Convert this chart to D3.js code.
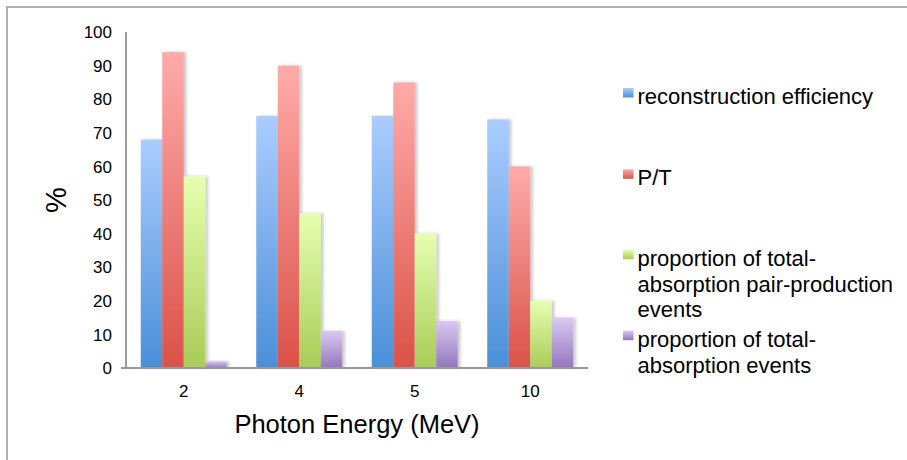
<!DOCTYPE html>
<html>
<head>
<meta charset="utf-8">
<script src="https://cdn.jsdelivr.net/npm/d3@7"></script>
<style>
  html, body { margin: 0; padding: 0; background: #fff; }
  svg { display: block; font-family: "Liberation Sans", Arial, Helvetica, sans-serif; }
</style>
</head>
<body>
<svg id="chart" width="907" height="460"></svg>
<script>
const categories = ["2", "4", "5", "10"];
const seriesNames = [
  "reconstruction efficiency",
  "P/T",
  "proportion of total-absorption pair-production events",
  "proportion of total-absorption events"
];
const legendLines = [
  ["reconstruction efficiency"],
  ["P/T"],
  ["proportion of total-", "absorption pair-production", "events"],
  ["proportion of total-", "absorption events"]
];
const reconstructionEfficiency = [68, 75, 75, 74];
const peakToTotal = [94, 90, 85, 60];
const pairProduction = [57, 46, 40, 20];
const totalAbsorption = [2, 11, 14, 15];
const yTicks = [0, 10, 20, 30, 40, 50, 60, 70, 80, 90, 100];
const xTitle = "Photon Energy (MeV)";
const yTitle = "%";

const seriesValues = [reconstructionEfficiency, peakToTotal, pairProduction, totalAbsorption];
const gradStops = [
  ["#abcdff", "#4a8fd8"],
  ["#ffabaa", "#da5248"],
  ["#e6ffb0", "#a8cc57"],
  ["#dac8f2", "#9377bd"]
];

const svg = d3.select("#chart");
const defs = svg.append("defs");
gradStops.forEach((c, i) => {
  const g = defs.append("linearGradient").attr("id", "g" + i)
    .attr("x1", 0).attr("y1", 0).attr("x2", 0).attr("y2", 1);
  g.append("stop").attr("offset", "0%").attr("stop-color", c[0]);
  g.append("stop").attr("offset", "100%").attr("stop-color", c[1]);
});
const f = defs.append("filter").attr("id", "sh").attr("x", "-20%").attr("y", "-5%").attr("width", "150%").attr("height", "110%");
f.append("feDropShadow").attr("dx", 2.5).attr("dy", 0).attr("stdDeviation", 1.5)
  .attr("flood-color", "#000").attr("flood-opacity", 0.22);
const fg = defs.append("filter").attr("id", "gsh").attr("x", "-5%").attr("y", "-200%").attr("width", "110%").attr("height", "500%");
fg.append("feDropShadow").attr("dx", 0).attr("dy", 1.3).attr("stdDeviation", 0.6)
  .attr("flood-color", "#000").attr("flood-opacity", 0.22);

// outer frame
svg.append("path").attr("d", "M7,470 L7,7 L920,7")
  .attr("fill", "none").attr("stroke", "#b0b0b0").attr("stroke-width", 2);

const plotLeft = 126, plotRight = 588, plotTop = 32, plotBottom = 368;
const x0 = d3.scaleBand().domain(categories).range([plotLeft, plotRight])
  .paddingInner(0.2554).paddingOuter(0.1277);
const x1 = d3.scaleBand().domain(d3.range(seriesNames.length)).range([0, x0.bandwidth()]).padding(0);
const y = d3.scaleLinear().domain([0, 100]).range([plotBottom, plotTop]);

// gridlines
svg.append("g").selectAll("line").data(yTicks).join("line")
  .attr("x1", plotLeft - 5).attr("x2", plotRight)
  .attr("y1", d => y(d)).attr("y2", d => y(d))
  .attr("stroke", "#999").attr("stroke-width", 1.9)
  .attr("filter", "url(#gsh)");

// y axis line
svg.append("line").attr("x1", plotLeft).attr("x2", plotLeft).attr("y1", plotTop).attr("y2", plotBottom)
  .attr("stroke", "#999").attr("stroke-width", 1.9);

// y tick labels
svg.append("g").selectAll("text").data(yTicks).join("text")
  .attr("x", 112).attr("y", d => y(d)).attr("dy", "0.36em")
  .attr("text-anchor", "end").attr("font-size", 17).attr("fill", "#000")
  .text(d => d);

// bars
const groups = svg.append("g").selectAll("g").data(categories).join("g")
  .attr("transform", c => `translate(${x0(c)},0)`);
groups.selectAll("rect").data((c, ci) => seriesValues.map((vals, si) => ({ si, v: vals[ci] })))
  .join("rect")
  .attr("x", d => x1(d.si)).attr("width", x1.bandwidth())
  .attr("y", d => y(d.v)).attr("height", d => y(0) - y(d.v))
  .attr("fill", d => `url(#g${d.si})`)
  .attr("filter", "url(#sh)");

// baseline redraw over bars
svg.append("line").attr("x1", plotLeft - 5).attr("x2", plotRight).attr("y1", plotBottom).attr("y2", plotBottom)
  .attr("stroke", "#999").attr("stroke-width", 1.9);

// x tick labels
svg.append("g").selectAll("text").data(categories).join("text")
  .attr("x", c => x0(c) + x0.bandwidth() / 2).attr("y", 396.5)
  .attr("text-anchor", "middle").attr("font-size", 17).attr("fill", "#000")
  .text(c => c);

// axis titles
svg.append("text").attr("x", (plotLeft + plotRight) / 2).attr("y", 433)
  .attr("text-anchor", "middle").attr("font-size", 25.5).attr("fill", "#000").text(xTitle);
svg.append("text").attr("transform", `translate(66,${(plotTop + plotBottom) / 2}) rotate(-90)`)
  .attr("text-anchor", "middle").attr("font-size", 29).attr("fill", "#000").text(yTitle);

// legend
const legendBaselines = [104, 185.3, 265.7, 346.7];
const lineGap = 25.8;
const lg = svg.append("g").selectAll("g").data(seriesNames).join("g");
lg.append("rect").attr("x", 623).attr("width", 10.5).attr("height", 9.5)
  .attr("y", (d, i) => legendBaselines[i] - 16)
  .attr("fill", (d, i) => `url(#g${i})`);
lg.append("text").attr("font-size", 22).attr("fill", "#000")
  .each(function(d, i) {
    d3.select(this).selectAll("tspan").data(legendLines[i]).join("tspan")
      .attr("x", 637.5).attr("y", (t, j) => legendBaselines[i] + j * lineGap)
      .text(t => t);
  });
</script>
</body>
</html>
